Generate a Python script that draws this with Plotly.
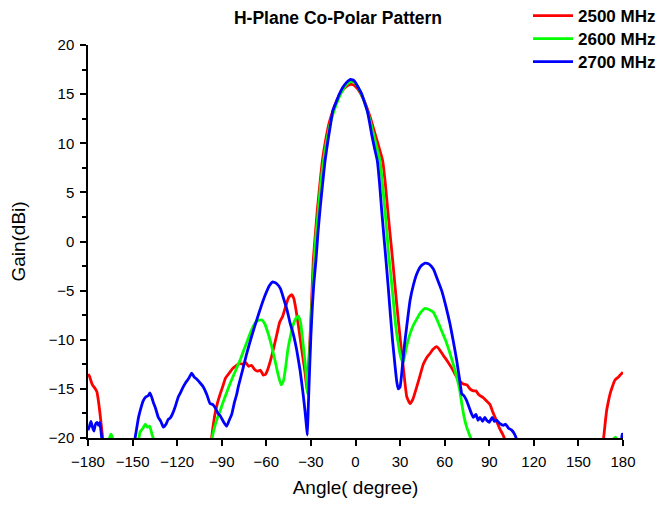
import plotly.graph_objects as go

# ---------------- data ----------------
angle_2500 = [-180, -179, -178, -177, -176, -175, -174, -173, -172, -171, -170, -168, -100,
              -97, -96, -94.5, -93, -91, -89, -87.5, -85, -82.5, -80, -78, -76, -74, -72, -70,
              -68, -66, -64, -62, -60.5, -59, -57, -55, -53, -51, -49, -47, -45, -43, -41.5,
              -40, -38, -36, -34, -32.5, -31.5, -30.5, -29.5, -28.4, -27, -25.7, -24, -22.3, -20,
              -17.5, -15, -12.5, -10, -7.5, -5, -3.2, -1.5, 0.5, 2.5, 5, 7.5, 10, 12.5, 15, 18.3,
              20, 21.7, 23.3, 25, 27, 29, 31, 33, 34.5, 36.7, 38.5, 41.2, 43.5,
              45.6, 48, 50.1, 52, 54.6, 56.5, 59.1, 61, 63.6, 66, 68.1, 70, 72.5, 75, 77, 79.3,
              81, 83, 86, 88, 90.5, 92, 93.9, 95.5, 97.2, 99, 100.6, 102, 105, 163, 166.8, 168,
              169, 170, 171.3, 173, 174.6, 176, 177, 178, 180]
gain_2500 = [-13.5, -13.7, -14.2, -14.6, -14.8, -15.0, -15.3, -16.2, -17.4, -18.8, -20.2, -24, -24,
             -20.2, -19.0, -17.5, -16.5, -15.5, -14.6, -13.9, -13.4, -12.9, -12.6, -12.4, -12.5,
             -12.3, -12.7, -12.6, -13.0, -13.2, -13.1, -13.6, -13.5, -13.0, -12.0, -10.8, -9.5,
             -8.2, -7.6, -6.6, -5.7, -5.4, -5.8, -7.0, -9.0, -11.2, -13.3, -15.3, -12.5, -9.5,
             -6.0, -1.9, 0.8, 3.2, 5.8, 8.2, 10.4, 12.2, 13.4, 14.4, 15.1, 15.6, 15.9, 16.0,
             15.95, 15.7, 15.3, 14.6, 13.7, 12.6, 11.3, 10.0, 8.2, 6.0, 3.2, 0.7, -1.9, -5.2,
             -8.3, -11.2, -14.0, -15.8, -16.5, -16.1, -14.8, -13.6, -12.5, -11.8,
             -11.4, -11.0, -10.7, -11.0, -11.6, -12.0, -12.6, -13.2, -13.8, -14.2, -14.5, -14.6,
             -15.0, -15.2, -15.2, -15.6, -15.9, -16.2, -16.6, -17.2, -17.9, -18.5, -19.1, -19.6,
             -20.2, -22, -24, -24, -20.2, -18.5, -17.2, -16.4, -15.5, -14.7, -14.1, -13.9, -13.8,
             -13.6, -13.3]

angle_2600 = [-180, -168, -166, -164.5, -163, -160, -150, -146, -145, -143, -141.5, -140, -138.5,
              -137, -135.5, -133, -100, -97, -96.5, -95, -93, -91, -89, -87, -84.5, -82, -80,
              -77.7, -75, -73, -71, -69, -67, -65, -63, -61, -58.7, -56.5, -54.2, -52, -50,
              -48.5, -47, -45.5, -44, -42, -40, -38.5, -37, -35.3, -33.5, -32.2, -31.2, -30.2,
              -29.2, -28, -26.8, -25, -23.5, -21.5, -19.2, -16.5, -14, -11.5, -9, -6.5, -4, -2.5,
              -1, 1, 3, 5, 7.5, 10, 12.5, 14.5, 16.5, 18.2, 19.8, 21.3, 22.1, 23.2, 25, 27, 29,
              30.5, 32.2, 34, 36.7, 39, 41.2, 44, 46.8, 49, 52.4, 55, 58, 61, 63.6, 66, 68.1,
              70, 71.5, 73, 74.8, 76.5, 78.2, 80, 170, 173, 175, 176, 180]
gain_2600 = [-23, -23, -20.3, -19.6, -20.3, -23, -23, -20.3, -19.4, -19.0, -18.6, -18.9, -18.8,
             -19.6, -20.3, -23, -23, -20.4, -20.0, -19.0, -18.0, -17.2, -16.3, -15.5, -14.5, -13.6,
             -12.9, -12.1, -11.0, -10.2, -9.4, -8.7, -8.2, -8.0, -8.0, -8.4, -9.4, -10.6, -12.1,
             -13.6, -14.6, -14.2, -12.8, -11.0, -9.8, -8.5, -7.8, -7.6, -8.2, -10.4, -13.0, -15.5,
             -12.5, -9.2, -6.0, -2.5, 0.3, 3.2, 5.8, 8.2, 10.4, 12.3, 13.5, 14.5, 15.3, 15.9,
             16.2, 16.3, 16.2, 15.9, 15.3, 14.6, 13.5, 12.2, 10.7, 9.5, 8.2, 5.8, 3.2, 0.6, -1.0,
             -2.6, -5.3, -8.5, -10.6, -11.8, -12.3, -10.9, -9.4, -8.5,
             -7.9, -7.2, -6.8, -6.9, -7.2, -8.0, -9.1, -10.2, -11.4, -12.6, -13.8, -15.0, -16.5,
             -17.8, -18.9, -19.6, -20.3, -23, -23, -20.2, -19.9, -20.2, -22]

angle_2700 = [-180, -179, -178, -177, -176, -175, -174, -173, -172, -171.5, -170.5, -168, -150,
              -148.5, -147, -146, -144.5, -142.8, -141, -139.5, -138.3, -137, -136, -134.5,
              -132.7, -131, -129.3, -127.5, -126, -124.8, -123, -121.5, -119.2, -117.5, -115.9,
              -114, -112.5, -111, -110.2, -108.5, -106.9, -104.5, -102.4, -100, -97.9, -96,
              -94.5, -92.5, -91.2, -89, -86.7, -85, -83.3, -81.5, -80, -78.9, -76, -73.2, -70,
              -66.5, -63.5, -60.9, -58, -55.7, -53, -50.5, -48.6, -46, -44, -41.9, -39.5, -37.3,
              -35.5, -34, -33, -32.4, -31.8, -31, -30, -29, -28, -26.6, -25.3, -23.9, -22.2,
              -20.5, -18.5, -16.5, -15.3, -13, -10.9, -8.5, -6, -4.5, -3.2, -2, -0.5, 1, 2.5,
              4.2, 6, 7.9, 9.5, 11, 12.8, 14.7, 16.2, 17.6, 19, 20.5, 22, 23.5, 25, 26.5, 27.8,
              28.8, 30, 31.5, 33, 34.5, 36.7, 39, 41.2, 44,
              46.8, 49.5, 52.4, 55, 58, 61, 63.6, 66, 68.1, 70, 71.5, 73, 74.8, 76.5, 78, 79.3,
              81, 82.5, 83.8, 85.5, 87, 88.3, 90, 92, 93.5, 95, 97, 99.5, 101, 103, 105.1, 107,
              108.5, 110, 177, 179, 179.5, 180]
gain_2700 = [-19.2, -18.8, -18.3, -18.9, -19.3, -18.6, -18.4, -18.7, -18.4, -19.0, -20.3, -23, -23,
             -20.2, -18.8, -17.9, -17.0, -16.2, -15.8, -15.7, -15.4, -15.9, -16.4, -17.0, -17.9,
             -18.3, -18.9, -18.6, -18.1, -18.0, -17.5, -16.9, -15.8, -15.3, -14.8, -14.3, -14.0,
             -13.6, -13.4, -13.8, -14.0, -14.4, -14.8, -15.6, -16.5, -16.6, -16.9, -17.5, -17.7,
             -18.3, -18.8, -18.2, -17.6, -16.4, -15.6, -14.8, -13.1, -11.4, -9.7, -8.0, -6.6,
             -5.5, -4.5, -4.1, -4.3, -4.8, -5.7, -7.0, -8.3, -9.4, -11.1, -13.1, -15.2, -17.2,
             -18.8, -19.7, -17.0, -13.5, -9.5, -6.5, -4.2, -1.9, 0.8, 3.2, 5.8, 8.2, 10.3, 12.2,
             13.3, 14.2, 15.0, 15.7, 16.2, 16.4, 16.5, 16.45, 16.3, 15.9, 15.5, 15.0, 14.2, 13.3,
             12.1, 10.8, 9.5, 8.2, 5.9, 3.2, 0.7, -1.9, -4.6, -7.5, -10.2, -12.5, -14.3, -15.0,
             -14.8, -12.8, -10.5, -8.6, -6.0, -4.4, -3.3, -2.5, -2.2,
             -2.3, -2.8, -3.8, -5.0, -6.7, -8.4, -10.3, -12.1, -14.0, -15.5, -15.7, -16.2, -16.9,
             -17.5, -17.9, -17.6, -18.2, -17.9, -18.3, -17.9, -18.2, -18.4, -17.9, -18.3, -18.2,
             -18.5, -18.7, -18.6, -19.0, -19.2, -19.6, -20.2, -23, -23, -20.2, -19.6, -19.6]

series_names = ["2500 MHz", "2600 MHz", "2700 MHz"]
series_colors = ["#ff0000", "#00ff00", "#0000ff"]
x_ticks = [-180, -150, -120, -90, -60, -30, 0, 30, 60, 90, 120, 150, 180]
y_ticks = [-20, -15, -10, -5, 0, 5, 10, 15, 20]

FONT = "Liberation Sans, Arial, Helvetica, sans-serif"

# the page adds an 8px body margin; plot area in the picture is x 88..623, y 45..438
L, R, T, B = 80, 51, 37, 76
plot_h = 506 - T - B
legend_ids = ["legend", "legend2", "legend3"]
legend_rows_px = [8, 31, 54]          # row centres in figure pixels
legend_x = (520 - L) / (666 - L - R)

fig = go.Figure()
for name, col, xs, ys, lid in zip(series_names, series_colors,
                                  [angle_2500, angle_2600, angle_2700],
                                  [gain_2500, gain_2600, gain_2700], legend_ids):
    fig.add_trace(go.Scatter(x=xs, y=ys, mode="lines", name=name, legend=lid,
                             line=dict(color=col, width=2.8, shape="spline", smoothing=0.4)))

legend_common = dict(x=legend_x, xanchor="left", yanchor="middle",
                     bgcolor="rgba(0,0,0,0)", itemwidth=40,
                     font=dict(family=FONT, size=17, color="black", weight="bold"))
legends = {}
for lid, ypx in zip(legend_ids, legend_rows_px):
    legends[lid] = dict(y=1 + (T - ypx) / plot_h, **legend_common)

fig.update_layout(
    width=666, height=506,
    margin=dict(l=L, r=R, t=T, b=B, autoexpand=False),
    paper_bgcolor="white", plot_bgcolor="white",
    font=dict(family=FONT, size=15, color="black"),
    title=dict(text="<b>H-Plane Co-Polar Pattern</b>", x=330 / 666, xref="container",
               xanchor="center", y=1 - 10 / 506, yref="container", yanchor="middle",
               font=dict(family=FONT, size=17.5, color="black")),
    showlegend=True,
    xaxis=dict(range=[-180, 180], tickvals=x_ticks, showgrid=False, zeroline=False,
               showline=True, linecolor="black", linewidth=1.5, ticks="outside",
               ticklen=6, tickwidth=1.5, tickcolor="black", automargin=False,
               ticklabelstandoff=3,
               title=dict(text="Angle( degree)", font=dict(size=19), standoff=12),
               tickfont=dict(size=15)),
    yaxis=dict(range=[-20, 20], tickvals=y_ticks, showgrid=False, zeroline=False,
               showline=True, linecolor="black", linewidth=1.5, ticks="outside",
               ticklen=6, tickwidth=1.5, tickcolor="black", automargin=False,
               ticklabelstandoff=3,
               minor=dict(dtick=2.5, ticks="outside", ticklen=4, tickwidth=1.5, tickcolor="black"),
               title=dict(text="Gain(dBi)", font=dict(size=19), standoff=24),
               tickfont=dict(size=15)),
    **legends,
)

fig.write_html("out.html")
